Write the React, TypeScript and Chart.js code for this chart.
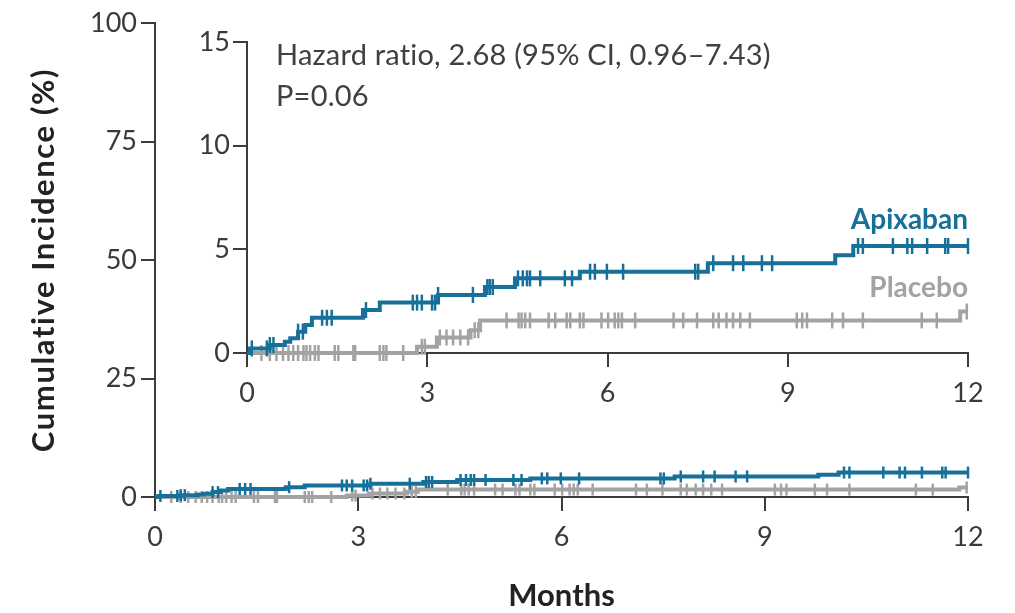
import React, { useEffect, useRef } from "react";
import { Chart, registerables } from "chart.js";

Chart.register(...registerables);

// Kaplan–Meier step points: time (months) where the cumulative incidence (%) changes
const apixabanTimes = [0, 0.05, 0.38, 0.63, 0.72, 0.85, 0.97, 1.08, 1.93, 2.21, 3.18, 3.96, 4.46, 5.54, 7.67, 9.79, 10.09, 12];
const apixabanValues = [0, 0.22, 0.39, 0.54, 0.71, 1.03, 1.35, 1.7, 2.07, 2.43, 2.8, 3.18, 3.6, 3.92, 4.33, 4.72, 5.16, 5.16];

const placeboTimes = [0, 2.83, 3.16, 3.72, 3.88, 11.87, 12];
const placeboValues = [0, 0.3, 0.75, 1.1, 1.57, 2.0, 2.0];

// Censoring times (months)
const apixabanCensored = [
  0.08, 0.33, 0.38, 0.44, 0.85, 0.93, 1.25, 1.33, 1.41, 1.98, 2.76, 2.83, 2.91, 3.08, 3.13, 3.18, 3.76,
  4.0, 4.04, 4.09, 4.51, 4.59, 4.66, 4.71, 4.88, 5.29, 5.41, 5.71, 5.79, 5.99, 6.26, 7.46, 7.51, 7.76,
  8.09, 8.26, 8.57, 8.74, 10.17, 10.25, 10.75, 10.99, 11.07, 11.32, 11.62, 11.67, 12.0,
];
const placeboCensored = [
  0.24, 0.38, 0.49, 0.6, 0.69, 0.77, 0.85, 0.94, 0.99, 1.05, 1.13, 1.19, 1.46, 1.52, 1.77, 1.8, 2.21,
  2.27, 2.32, 2.6, 2.91, 2.96, 3.21, 3.32, 3.43, 3.55, 3.68, 3.79, 3.85, 4.32, 4.52, 4.57, 4.63, 4.71,
  5.02, 5.13, 5.32, 5.38, 5.54, 5.6, 5.9, 6.01, 6.12, 6.18, 6.24, 6.46, 7.1, 7.26, 7.49, 7.76, 7.85,
  7.98, 8.09, 8.21, 8.37, 9.15, 9.24, 9.32, 9.74, 9.92, 10.25, 11.23, 11.48, 11.98,
];

const monthTicks = [0, 3, 6, 9, 12];
const mainYTicks = [0, 25, 50, 75, 100];
const insetYTicks = [0, 5, 10, 15];

const hazardText = "Hazard ratio, 2.68 (95% CI, 0.96\u20137.43)";
const pText = "P=0.06";
const seriesNames = ["Apixaban", "Placebo"];
const xTitle = "Months";
const yTitle = "Cumulative Incidence (%)";

const BLUE = "#17709a";
const GRAY = "#a3a3a3";
const AXIS = "#3c3c3c";
const TEXT = "#3a3a3a";
const FONT = "Lato, 'Open Sans', sans-serif";

const W = 1015;
const H = 613;

function valueAt(times: number[], values: number[], t: number) {
  let v = values[0];
  for (let i = 0; i < times.length; i++) if (times[i] <= t) v = values[i];
  return v;
}

function stepPoints(times: number[], values: number[]) {
  return times.map((t, i) => ({ x: t, y: values[i] }));
}

function censorPoints(cens: number[], times: number[], values: number[]) {
  return cens.map((t) => ({ x: t, y: valueAt(times, values, t) }));
}

function buildDatasets(lineW: number, tickR: number) {
  return [
    {
      data: stepPoints(apixabanTimes, apixabanValues),
      stepped: true,
      borderColor: BLUE,
      borderWidth: lineW,
      pointRadius: 0,
      clip: false,
    },
    {
      data: censorPoints(apixabanCensored, apixabanTimes, apixabanValues),
      showLine: false,
      pointStyle: "line",
      rotation: 90,
      pointRadius: tickR,
      borderColor: BLUE,
      pointBorderColor: BLUE,
      pointBorderWidth: 2.5,
      clip: false,
    },
    {
      data: stepPoints(placeboTimes, placeboValues),
      stepped: true,
      borderColor: GRAY,
      borderWidth: lineW,
      pointRadius: 0,
      clip: false,
    },
    {
      data: censorPoints(placeboCensored, placeboTimes, placeboValues),
      showLine: false,
      pointStyle: "line",
      rotation: 90,
      pointRadius: tickR,
      borderColor: GRAY,
      pointBorderColor: GRAY,
      pointBorderWidth: 2.5,
      clip: false,
    },
  ];
}

function axes(yMax: number, yTicks: number[], yWidth: number, xHeight: number, xPad: number, yPad: number) {
  const gridBase = {
    drawOnChartArea: false,
    drawTicks: true,
    tickLength: 14,
    tickColor: AXIS,
    tickWidth: 2,
    color: AXIS,
    lineWidth: 2,
  };
  return {
    x: {
      type: "linear" as const,
      min: 0,
      max: 12,
      afterBuildTicks: (s: any) => {
        s.ticks = monthTicks.map((v) => ({ value: v }));
      },
      afterFit: (s: any) => {
        s.height = xHeight;
      },
      ticks: { color: TEXT, font: { family: FONT, size: 27 }, padding: xPad, maxRotation: 0 },
      grid: gridBase,
      border: { display: true, color: AXIS, width: 2 },
    },
    y: {
      type: "linear" as const,
      min: 0,
      max: yMax,
      afterBuildTicks: (s: any) => {
        s.ticks = yTicks.map((v) => ({ value: v }));
      },
      afterFit: (s: any) => {
        s.width = yWidth;
      },
      ticks: { color: TEXT, font: { family: FONT, size: 27 }, padding: yPad },
      grid: gridBase,
      border: { display: true, color: AXIS, width: 2 },
    },
  };
}

const mainTextPlugin = {
  id: "mainText",
  afterDraw(chart: any) {
    const { ctx, chartArea } = chart;
    ctx.save();
    ctx.fillStyle = "#222";
    ctx.textAlign = "center";
    ctx.textBaseline = "alphabetic";
    ctx.font = `bold 31px ${FONT}`;
    ctx.fillText(xTitle, (chartArea.left + chartArea.right) / 2, chartArea.bottom + 109);
    ctx.translate(chartArea.left - 101, (chartArea.top + chartArea.bottom) / 2);
    ctx.rotate(-Math.PI / 2);
    (ctx as any).letterSpacing = "1.6px";
    ctx.fillText(yTitle, 0, 0);
    ctx.restore();
  },
};

const insetTextPlugin = {
  id: "insetText",
  afterDraw(chart: any) {
    const { ctx, chartArea } = chart;
    ctx.save();
    ctx.fillStyle = "#404040";
    ctx.font = `29px ${FONT}`;
    (ctx as any).letterSpacing = "0.2px";
    ctx.textAlign = "left";
    ctx.textBaseline = "alphabetic";
    ctx.fillText(hazardText, chartArea.left + 29, chartArea.top + 23);
    ctx.fillText(pText, chartArea.left + 29, chartArea.top + 64);
    (ctx as any).letterSpacing = "0px";
    ctx.textAlign = "right";
    ctx.font = `bold 28px ${FONT}`;
    ctx.fillStyle = BLUE;
    ctx.fillText(seriesNames[0], chartArea.right, chartArea.top + 187);
    ctx.fillStyle = GRAY;
    ctx.fillText(seriesNames[1], chartArea.right, chartArea.top + 255);
    ctx.restore();
  },
};

export default function App() {
  const mainRef = useRef<HTMLCanvasElement>(null);
  const insetRef = useRef<HTMLCanvasElement>(null);

  useEffect(() => {
    const common = {
      animation: false as const,
      responsive: false,
      maintainAspectRatio: false,
      events: [] as any[],
    };

    const main = new Chart(mainRef.current!, {
      type: "line",
      data: { datasets: buildDatasets(4, 6) as any },
      options: {
        ...common,
        layout: { padding: { left: 0, top: 23, right: 47, bottom: 0 } },
        plugins: { legend: { display: false }, tooltip: { enabled: false } },
        scales: axes(100, mainYTicks, 155, 116, 10, 4) as any,
      },
      plugins: [mainTextPlugin],
    });

    const inset = new Chart(insetRef.current!, {
      type: "line",
      data: { datasets: buildDatasets(4, 8) as any },
      options: {
        ...common,
        layout: { padding: { left: 0, top: 42, right: 47, bottom: 0 } },
        plugins: { legend: { display: false }, tooltip: { enabled: false } },
        scales: axes(15, insetYTicks, 247, 260, 10, 3) as any,
      },
      plugins: [insetTextPlugin],
    });

    return () => {
      main.destroy();
      inset.destroy();
    };
  }, []);

  return (
    <div style={{ position: "fixed", left: 0, top: 0, width: W, height: H, background: "#fff" }}>
      <canvas ref={mainRef} width={W} height={H} style={{ position: "absolute", left: 0, top: 0 }} />
      <canvas ref={insetRef} width={W} height={H} style={{ position: "absolute", left: 0, top: 0 }} />
    </div>
  );
}
